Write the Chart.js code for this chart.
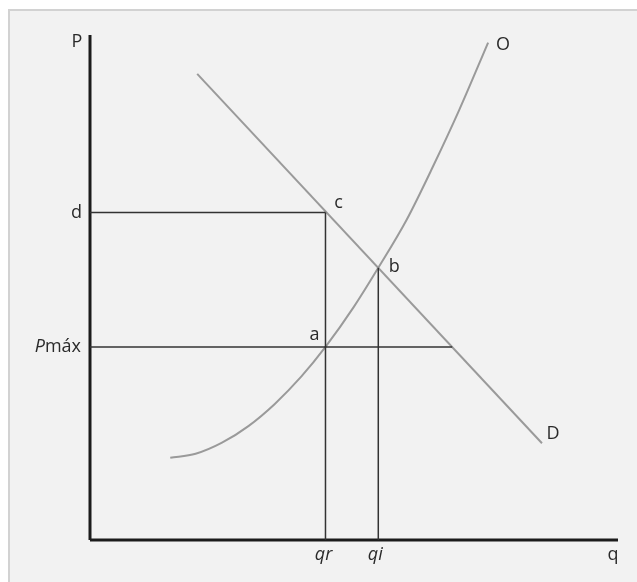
<!DOCTYPE html>
<html>
<head>
<meta charset="utf-8">
<script src="https://cdn.jsdelivr.net/npm/chart.js@4.4.0/dist/chart.umd.min.js"></script>
<style>
  html, body { margin: 0; padding: 0; background: #ffffff; }
  #wrap { position: relative; width: 637px; height: 582px; overflow: hidden; }
  #box { position: absolute; left: 8px; top: 9px; width: 640px; height: 590px;
         background: #f2f2f2; border-top: 2px solid #d2d2d2; border-left: 2px solid #d2d2d2; }
  #c { position: absolute; left: 0; top: 0; }
</style>
</head>
<body>
<div id="wrap">
  <div id="box"></div>
  <canvas id="c" width="637" height="582"></canvas>
</div>
<script>
// Quantities and prices in chart units (0-100 on each axis)
const qr = 44.6;          // quantity supplied at the ceiling
const qi = 54.6;          // equilibrium quantity
const priceD = 65.0;      // price "d" (demand price at qr)
const priceMax = 38.3;    // ceiling price "Pmáx"
const priceB = 54.0;      // equilibrium price (point b)
const qDemandAtMax = 68.6;// quantity demanded at Pmáx

// Demand curve D (straight line)
const demandQ = [20.3, 85.6];
const demandP = [92.5, 19.2];

// Supply curve O
const supplyQ = [15.2, 20.0, 25.0, 30.0, 35.0, 40.0, 44.6, 50.0, 54.6, 60.0, 65.0, 70.0, 75.4];
const supplyP = [16.3, 17.1, 19.3, 22.6, 27.0, 32.4, 38.3, 46.3, 54.0, 63.6, 74.2, 85.5, 98.7];

// Axis extents
const axisMaxQ = 100;
const axisMaxP = 100.2;

const zip = (xs, ys) => xs.map((x, i) => ({ x: x, y: ys[i] }));

const refColor = '#333333';
const curveColor = '#9a9a9a';
const axisColor = '#1c1c1c';

function seg(data, color, width) {
  return { data: data, borderColor: color, borderWidth: width, pointRadius: 0,
           showLine: true, fill: false, clip: false, tension: 0 };
}

const datasets = [
  seg([{x: 0, y: priceD}, {x: qr, y: priceD}], refColor, 1.5),
  seg([{x: 0, y: priceMax}, {x: qDemandAtMax, y: priceMax}], refColor, 1.5),
  seg([{x: qr, y: 0}, {x: qr, y: priceD}], refColor, 1.5),
  seg([{x: qi, y: 0}, {x: qi, y: priceB}], refColor, 1.5),
  seg(zip(demandQ, demandP), curveColor, 2),
  Object.assign(seg(zip(supplyQ, supplyP), curveColor, 2), { tension: 0.4, cubicInterpolationMode: 'monotone' }),
  seg([{x: 0, y: 0}, {x: 0, y: axisMaxP}], axisColor, 3),
  seg([{x: 0, y: 0}, {x: axisMaxQ, y: 0}], axisColor, 3)
];

const FONT = '"Open Sans", "Noto Sans", sans-serif';

const labelsPlugin = {
  id: 'labels',
  afterDatasetsDraw(chart) {
    const ctx = chart.ctx;
    const xs = chart.scales.x, ys = chart.scales.y;
    const X = v => xs.getPixelForValue(v), Y = v => ys.getPixelForValue(v);
    ctx.save();
    ctx.fillStyle = '#2a2a2a';
    ctx.textBaseline = 'middle';
    function txt(s, x, y, align, italic) {
      ctx.font = (italic ? 'italic ' : '') + '18px ' + FONT;
      ctx.textAlign = align;
      ctx.fillText(s, x, y);
    }
    const ax = X(0);
    txt('P', ax - 13, Y(axisMaxP) + 7, 'center');
    txt('O', X(supplyQ[supplyQ.length - 1]) + 15, Y(supplyP[supplyP.length - 1]) + 2, 'center');
    txt('d', ax - 8, Y(priceD), 'right');
    // Pmáx : italic P + regular máx
    ctx.font = '18px ' + FONT;
    const wMax = ctx.measureText('máx').width;
    txt('máx', ax - 9, Y(priceMax), 'right');
    txt('P', ax - 9 - wMax, Y(priceMax), 'right', true);
    txt('qr', X(qr) - 2, Y(0) + 15, 'center', true);
    txt('qi', X(qi) - 3, Y(0) + 15, 'center', true);
    txt('q', X(axisMaxQ) - 5, Y(0) + 15, 'center');
    txt('D', X(demandQ[1]) + 11, Y(demandP[1]) - 9, 'center');
    txt('c', X(qr) + 13, Y(priceD) - 10, 'center');
    txt('b', X(qi) + 16, Y(priceB) - 1, 'center');
    txt('a', X(qr) - 11, Y(priceMax) - 12, 'center');
    ctx.restore();
  }
};

new Chart(document.getElementById('c'), {
  type: 'scatter',
  data: { datasets: datasets },
  options: {
    responsive: false,
    animation: false,
    layout: { padding: { left: 90, right: 19, top: 35, bottom: 42 } },
    plugins: { legend: { display: false }, tooltip: { enabled: false } },
    scales: {
      x: { type: 'linear', min: 0, max: axisMaxQ, display: false },
      y: { type: 'linear', min: 0, max: axisMaxP, display: false }
    }
  },
  plugins: [labelsPlugin]
});
</script>
</body>
</html>
